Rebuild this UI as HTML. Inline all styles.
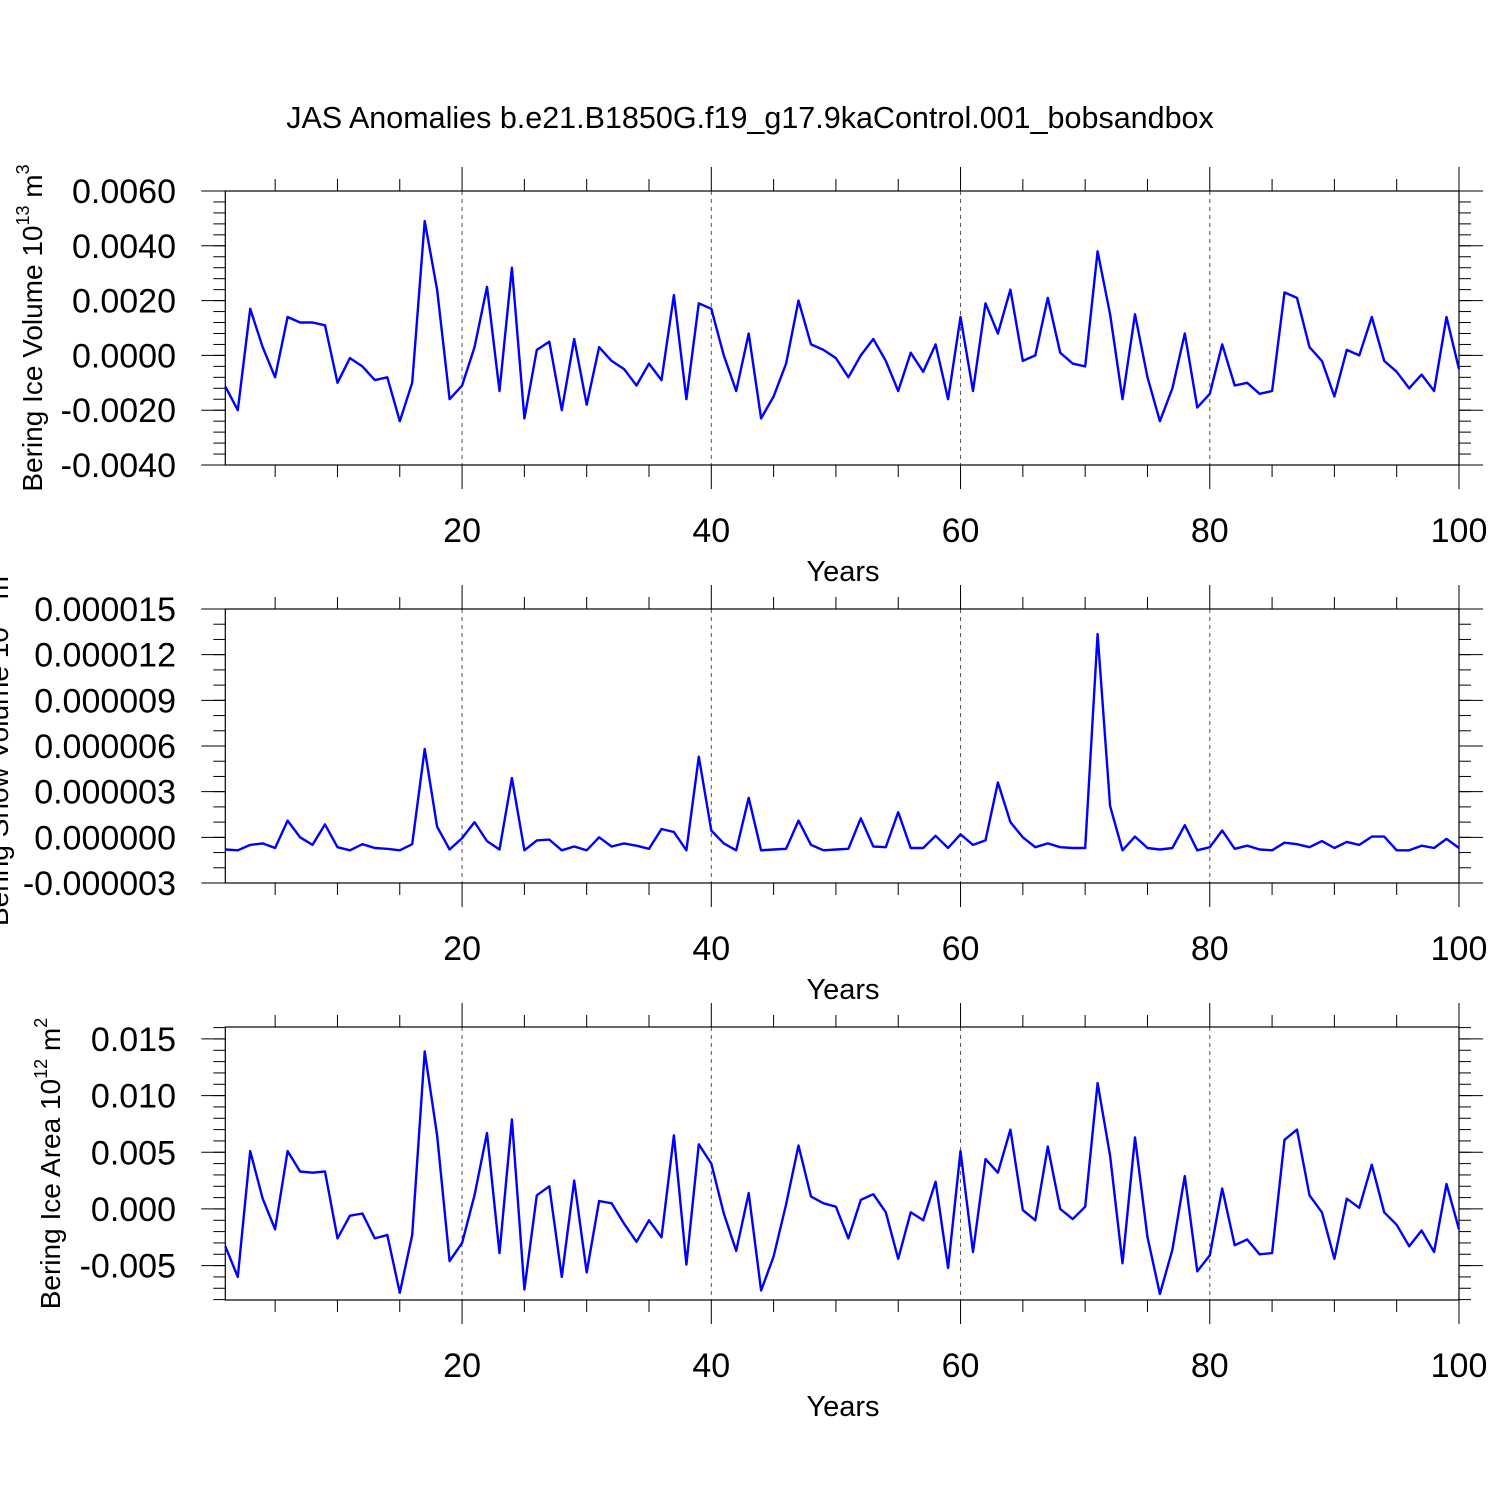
<!DOCTYPE html>
<html><head><meta charset="utf-8"><style>
html,body{margin:0;padding:0;background:#fff;}
svg{display:block;font-family:"Liberation Sans",Arial,sans-serif;}
</style></head><body>
<svg id="chart" width="1500" height="1500" viewBox="0 0 1500 1500" xmlns="http://www.w3.org/2000/svg">
<rect width="1500" height="1500" fill="#fff"/>
<text x="750" y="128" font-size="30.5" text-anchor="middle">JAS Anomalies b.e21.B1850G.f19_g17.9kaControl.001_bobsandbox</text>
</svg>
<script>
const years = Array.from({length:100},(_,i)=>i+1);
const iceVolume = [-1.13,-2.0,1.7,0.3,-0.8,1.4,1.2,1.2,1.1,-1.0,-0.1,-0.4,-0.9,-0.8,-2.4,-1.0,4.9,2.4,-1.6,-1.1,
0.3,2.5,-1.3,3.2,-2.3,0.2,0.5,-2.0,0.6,-1.8,0.3,-0.2,-0.5,-1.1,-0.3,-0.9,2.2,-1.6,1.9,1.7,
0.0,-1.3,0.8,-2.3,-1.5,-0.3,2.0,0.4,0.2,-0.1,-0.8,0.0,0.6,-0.2,-1.3,0.1,-0.6,0.4,-1.6,1.4,
-1.3,1.9,0.8,2.4,-0.2,0.0,2.1,0.1,-0.3,-0.4,3.8,1.5,-1.6,1.5,-0.8,-2.4,-1.2,0.8,-1.9,-1.4,
0.4,-1.1,-1.0,-1.4,-1.3,2.3,2.1,0.3,-0.2,-1.5,0.2,0.0,1.4,-0.2,-0.6,-1.2,-0.7,-1.3,1.4,-0.5].map(v=>v*0.001);
const snowVolume = [-0.8,-0.85,-0.5,-0.4,-0.7,1.1,0,-0.5,0.85,-0.65,-0.85,-0.45,-0.7,-0.75,-0.85,-0.45,5.8,0.7,-0.8,-0.05,
1.0,-0.25,-0.8,3.9,-0.85,-0.2,-0.15,-0.85,-0.6,-0.85,0,-0.6,-0.4,-0.55,-0.75,0.55,0.35,-0.85,5.3,0.45,
-0.4,-0.85,2.6,-0.85,-0.8,-0.75,1.1,-0.5,-0.85,-0.8,-0.75,1.25,-0.6,-0.65,1.65,-0.7,-0.7,0.1,-0.7,0.2,
-0.5,-0.2,3.6,1.0,0,-0.65,-0.4,-0.65,-0.7,-0.7,13.35,2.05,-0.85,0.05,-0.7,-0.8,-0.7,0.8,-0.85,-0.65,
0.45,-0.75,-0.55,-0.8,-0.85,-0.35,-0.45,-0.65,-0.25,-0.7,-0.3,-0.5,0.05,0.05,-0.85,-0.85,-0.55,-0.7,-0.1,-0.7].map(v=>v*1e-6);
const iceArea = [-3.3,-6.0,5.1,0.9,-1.8,5.1,3.3,3.2,3.3,-2.6,-0.6,-0.4,-2.6,-2.3,-7.4,-2.3,13.9,6.5,-4.6,-3.0,
1.2,6.7,-3.9,7.9,-7.1,1.2,2.0,-6.0,2.5,-5.6,0.7,0.5,-1.3,-2.9,-1.0,-2.5,6.5,-4.9,5.7,4.0,
-0.4,-3.7,1.4,-7.2,-4.2,0.4,5.6,1.1,0.5,0.2,-2.6,0.8,1.3,-0.3,-4.4,-0.3,-1.0,2.4,-5.2,5.1,
-3.8,4.4,3.2,7.0,-0.1,-1.0,5.5,0,-0.9,0.2,11.1,4.7,-4.8,6.3,-2.5,-7.5,-3.6,2.9,-5.5,-4.1,
1.8,-3.2,-2.7,-4.0,-3.9,6.1,7.0,1.2,-0.3,-4.4,0.9,0.1,3.9,-0.3,-1.4,-3.3,-1.9,-3.8,2.2,-1.8].map(v=>v*0.001);
const xTicks = [20,40,60,80,100];
const yTicks1 = [-0.004,-0.002,0,0.002,0.004,0.006];
const yLabels1 = ["-0.0040","-0.0020","0.0000","0.0020","0.0040","0.0060"];
const yTicks2 = [-3e-6,0,3e-6,6e-6,9e-6,12e-6,15e-6];
const yLabels2 = ["-0.000003","0.000000","0.000003","0.000006","0.000009","0.000012","0.000015"];
const yTicks3 = [-0.005,0,0.005,0.010,0.015];
const yLabels3 = ["-0.005","0.000","0.005","0.010","0.015"];

const NS="http://www.w3.org/2000/svg";
const svg=document.getElementById('chart');
function mk(tag,attrs,parent){const e=document.createElementNS(NS,tag);for(const k in attrs)e.setAttribute(k,attrs[k]);(parent||svg).appendChild(e);return e;}
const L=225.3,R=1459;
const xs=v=>L+(v-1)*(R-L)/99;

function panel(name,top,bot,ymin,ymax,data,ticks,labels,minorStep,titleParts,titleX){
  const g=mk('g',{});
  
  
  const ys=v=>bot-(v-ymin)/(ymax-ymin)*(bot-top);
  xTicks.forEach(t=>{if(t<100){const l=mk('line',{x1:xs(t),x2:xs(t),y1:top,y2:bot,stroke:'#555','stroke-width':1,'stroke-dasharray':'4,4'},g);
    
    }});
  for(let t=5;t<=100;t+=5){
    const major=t%20===0, len=major?24:12;
    mk('line',{x1:xs(t),x2:xs(t),y1:bot,y2:bot+len,stroke:'#000','stroke-width':1},g);
    mk('line',{x1:xs(t),x2:xs(t),y1:top,y2:top-len,stroke:'#000','stroke-width':1},g);
  }
  xTicks.forEach(t=>{const tx=mk('text',{x:xs(t),y:bot+77,'font-size':34,'text-anchor':'middle'},g);tx.textContent=t;
    
    });
  const first=Math.ceil((ymin-1e-12)/minorStep);
  for(let k=first;k*minorStep<=ymax+1e-12;k++){
    const y=ys(k*minorStep);
    mk('line',{x1:L,x2:L-12,y1:y,y2:y,stroke:'#000','stroke-width':1},g);
    mk('line',{x1:R,x2:R+12,y1:y,y2:y,stroke:'#000','stroke-width':1},g);
  }
  ticks.forEach((t,i)=>{const y=ys(t);
    mk('line',{x1:L,x2:L-24,y1:y,y2:y,stroke:'#000','stroke-width':1},g);
    mk('line',{x1:R,x2:R+24,y1:y,y2:y,stroke:'#000','stroke-width':1},g);
    const tx=mk('text',{x:176,y:y+12,'font-size':34,'text-anchor':'end'},g);tx.textContent=labels[i];
    
    });
  const fr=mk('rect',{x:L,y:top,width:R-L,height:bot-top,fill:'none',stroke:'#000','stroke-width':1.2},g);
  
  
  const pts=data.map((v,i)=>xs(years[i]).toFixed(1)+','+ys(v).toFixed(1)).join(' ');
  const pl=mk('polyline',{points:pts,fill:'none',stroke:'#0000ff','stroke-width':2.4,'stroke-linejoin':'round'},g);
  
  
  const xt=mk('text',{x:843,y:bot+116,'font-size':29,'text-anchor':'middle'},g);xt.textContent='Years';
  
  
  const cy=(top+bot)/2;
  const yt=mk('text',{x:titleX,y:cy,'font-size':28,'text-anchor':'middle',transform:`rotate(-90 ${titleX} ${cy})`},g);
  
  
  const a=mk('tspan',{},yt);a.textContent=titleParts[0];
  const b=mk('tspan',{'font-size':18,dy:-13},yt);b.textContent=titleParts[1];
  const c=mk('tspan',{dy:13},yt);c.textContent=' '+titleParts[2];
  const d=mk('tspan',{'font-size':18,dy:-13},yt);d.textContent=titleParts[3];
}
panel('panel-ice-volume',191,465,-0.004,0.006,iceVolume,yTicks1,yLabels1,0.0004,['Bering Ice Volume 10','13','m','3'],42);
panel('panel-snow-volume',609,883,-3e-6,15e-6,snowVolume,yTicks2,yLabels2,1e-6,['Bering Snow Volume 10','13','m','3'],8);
panel('panel-ice-area',1027,1300,-0.008035,0.016053,iceArea,yTicks3,yLabels3,0.001,['Bering Ice Area 10','12','m','2'],60);
</script>
</body></html>
